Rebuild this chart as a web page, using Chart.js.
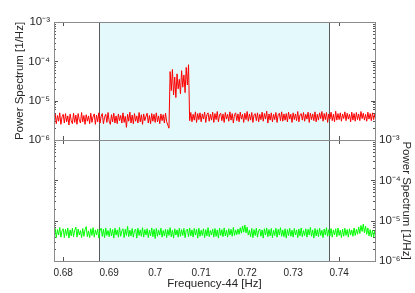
<!DOCTYPE html>
<html>
<head>
<meta charset="utf-8">
<script src="https://cdn.jsdelivr.net/npm/chart.js@4/dist/chart.umd.min.js"></script>
<style>
html, body { margin: 0; padding: 0; background: #fff; }
#wrap { position: relative; width: 415px; height: 293px; }
#wrap canvas { position: absolute; left: 0; top: 0; width: 415px; height: 293px; }
</style>
</head>
<body>
<div id="wrap">
  <canvas id="topChart" width="415" height="293"></canvas>
  <canvas id="bottomChart" width="415" height="293"></canvas>
</div>
<script>
// frequency grid (Frequency-44, Hz)
var freqStart = 0.678, freqStep = 0.00025;

// power spectra, in units of 1e-6 /Hz
var redPower = [
  2.8,4.6,2.6,4.2,3.0,4.9,2.5,3.9,4.5,2.7,
  4.7,2.9,4.1,2.4,4.6,3.1,2.6,4.8,2.8,4.3,
  2.5,4.7,3.2,2.7,5.0,2.9,4.2,2.5,4.4,3.0,
  4.1,2.6,4.8,2.8,3.9,4.6,2.5,4.3,2.9,4.9,
  2.7,4.0,4.7,2.6,3.8,4.5,2.8,5.0,3.0,2.5,
  4.4,2.9,4.8,2.7,4.1,2.6,4.6,3.1,4.2,2.7,
  4.9,2.8,4.0,2.1,4.5,3.0,5.1,2.7,4.3,2.6,
  4.7,3.0,4.1,2.7,5.0,2.9,4.4,2.5,4.6,3.1,
  4.0,4.8,2.7,4.2,2.6,4.7,3.0,4.5,2.8,4.9,
  2.9,4.1,2.6,4.6,3.1,4.4,2.7,4.8,2.9,2.4,
  2.0,
  55,18,62,14,40,12,48,20,35,15,58,22,45,16,70,25,82,
  3.1,5.0,2.9,4.5,3.2,5.2,2.8,4.7,3.3,4.9,
  2.9,4.6,3.4,5.1,2.8,4.4,4.9,3.0,4.5,3.2,
  5.1,2.8,4.7,3.3,5.3,2.9,4.4,4.8,3.1,4.6,
  2.8,5.0,3.4,4.5,3.0,5.2,3.2,4.7,2.7,4.4,
  4.9,3.1,4.6,2.9,5.1,3.4,4.5,2.8,4.8,3.3,
  5.3,3.0,4.6,3.2,5.0,2.8,4.4,4.7,3.1,4.9,
  2.9,4.5,3.3,5.1,3.0,4.7,3.4,5.4,2.7,4.6,
  3.2,4.9,2.9,4.5,3.3,5.0,2.8,4.4,4.8,3.1,
  5.2,3.0,4.6,3.2,4.7,2.9,5.1,3.4,4.5,2.8,
  4.9,3.3,4.6,3.1,5.3,2.9,4.4,4.7,3.2,5.0,
  3.0,4.5,3.4,5.1,2.8,4.8,3.3,4.6,3.1,5.2,
  2.9,4.5,3.2,4.9,3.5,5.3,3.0,4.7,3.3,5.0,
  2.8,4.6,3.4,5.1,3.1,4.5,2.9,5.4,3.2,4.7,
  3.3,4.9,3.0,4.6,3.5,5.2,3.1,4.8,3.4,4.5,
  2.9,5.1,3.2,4.7,3.0,5.0,3.3,4.6,3.1,5.3,
  3.5,4.8,3.2,4.5,3.0,5.1,3.4,4.7,3.1,4.9,
  3.3,4.6
];

var greenPower = [
  4.1,6.4,3.8,6.0,4.4,6.8,3.9,5.6,6.3,3.8,
  6.1,4.3,6.6,3.7,5.9,4.2,6.5,4.0,5.8,6.9,
  3.9,6.2,4.4,5.7,3.8,6.4,4.1,6.0,7.1,4.0,
  5.6,3.8,6.3,4.3,6.7,3.9,5.9,4.4,6.2,3.7,
  5.8,6.5,4.1,6.1,3.8,6.6,4.3,5.7,4.0,6.4,
  4.2,6.0,3.7,6.5,4.4,5.9,3.9,6.8,4.1,5.6,
  6.3,3.8,6.1,4.3,7.2,4.0,5.8,4.2,6.4,3.9,
  5.7,6.2,3.7,6.5,4.3,5.9,4.1,6.7,3.9,6.0,
  4.4,6.3,3.8,5.8,4.2,6.6,4.0,6.1,3.6,6.4,
  4.1,5.9,4.4,6.5,3.9,5.7,4.2,6.2,3.8,6.0,
  4.3,6.7,4.0,5.8,3.7,6.3,4.4,5.9,3.9,6.5,
  4.1,6.0,4.3,6.4,3.8,5.7,6.2,4.0,6.6,4.2,
  5.9,3.9,6.4,4.4,6.1,3.7,6.5,4.1,5.8,4.3,
  6.3,3.8,6.0,4.2,6.7,4.0,5.7,4.4,6.2,3.9,
  6.4,4.1,5.9,3.7,6.5,4.3,6.0,4.0,6.6,4.2,
  5.8,3.9,6.3,4.4,6.1,4.1,6.8,4.3,5.9,4.5,
  6.2,4.6,6.7,4.9,7.4,5.2,7.8,5.0,6.9,4.4,
  5.8,4.0,6.4,3.8,6.0,4.3,6.5,3.9,5.7,6.2,
  4.1,5.9,3.7,6.3,4.4,6.6,4.0,6.0,4.2,6.4,
  3.8,5.8,4.3,6.5,3.9,6.1,4.4,6.7,4.1,5.9,
  4.0,6.3,3.7,6.0,4.3,6.5,4.1,5.8,3.9,6.4,
  4.4,5.9,3.8,6.2,4.2,6.6,4.0,5.7,4.3,6.3,
  3.9,6.1,4.4,6.8,4.1,5.9,3.7,6.4,4.2,6.0,
  4.0,6.5,4.3,5.8,3.8,6.2,4.4,6.7,4.1,6.0,
  4.2,6.4,3.9,5.9,4.4,6.3,4.0,6.6,4.3,5.8,
  3.8,6.2,4.1,6.5,4.3,6.0,3.9,6.3,4.4,5.9,
  4.1,6.6,4.3,6.1,4.6,7.0,4.8,7.6,5.4,8.2,
  5.0,7.3,4.6,6.6,4.2,6.0,4.0,5.8,3.9,5.6
];

var xTickValues = [0.68, 0.69, 0.70, 0.71, 0.72, 0.73, 0.74];
var xTickLabels = ['0.68', '0.69', '0.7', '0.71', '0.72', '0.73', '0.74'];
var yTickValues = [1e-6, 1e-5, 1e-4, 1e-3];
var yTickLabels = ['10⁻⁶', '10⁻⁵', '10⁻⁴', '10⁻³'];

var xMin = 0.678, xMax = 0.7478;
var shadeStart = 0.6878, shadeEnd = 0.7378;
var shadeColor = '#e3f9fb';
var textColor = '#262626';
var fontFamily = "'Liberation Sans', Arial, sans-serif";

function toPoints(values) {
  return values.map(function (v, i) {
    return { x: freqStart + i * freqStep, y: v * 1e-6 };
  });
}

function px(v) { return Math.round(v) + 0.5; }

// inner ticks, shaded band and box, MATLAB style
var panelDecor = {
  id: 'panelDecor',
  beforeDatasetsDraw: function (chart) {
    var ctx = chart.ctx, a = chart.chartArea;
    var xs = chart.scales.x, ys = chart.scales.y;
    ctx.save();
    ctx.strokeStyle = '#555';
    ctx.lineWidth = 1;
    ctx.beginPath();
    xTickValues.forEach(function (v) {
      var x = px(xs.getPixelForValue(v));
      ctx.moveTo(x, a.top); ctx.lineTo(x, a.top + 4);
      ctx.moveTo(x, a.bottom); ctx.lineTo(x, a.bottom - 4);
    });
    yTickValues.forEach(function (d) {
      for (var m = 1; m < 10; m++) {
        var v = d * m;
        if (v > 1.0001e-3) break;
        var y = px(ys.getPixelForValue(v));
        var len = m === 1 ? 4 : 2;
        ctx.moveTo(a.left, y); ctx.lineTo(a.left + len, y);
        ctx.moveTo(a.right, y); ctx.lineTo(a.right - len, y);
      }
    });
    ctx.stroke();

    var x0 = xs.getPixelForValue(shadeStart), x1 = xs.getPixelForValue(shadeEnd);
    ctx.fillStyle = shadeColor;
    ctx.fillRect(x0, a.top, x1 - x0, a.bottom - a.top);
    ctx.strokeStyle = '#5a5a5a';
    ctx.beginPath();
    ctx.moveTo(px(x0), a.top); ctx.lineTo(px(x0), a.bottom);
    ctx.moveTo(px(x1), a.top); ctx.lineTo(px(x1), a.bottom);
    ctx.stroke();
    ctx.restore();
  },
  afterDraw: function (chart) {
    var ctx = chart.ctx, a = chart.chartArea;
    ctx.save();
    ctx.strokeStyle = '#8a8a8a';
    ctx.lineWidth = 1;
    ctx.strokeRect(px(a.left), px(a.top), px(a.right) - px(a.left), px(a.bottom) - px(a.top));
    ctx.restore();
  }
};

function yAxis(position, width, titlePad) {
  return {
    type: 'logarithmic',
    position: position,
    min: 1e-6,
    max: 1e-3,
    afterBuildTicks: function (s) { s.ticks = yTickValues.map(function (v) { return { value: v }; }); },
    afterFit: function (s) { s.width = width; },
    grid: { display: false, drawTicks: false },
    border: { display: false },
    ticks: {
      autoSkip: false,
      padding: 4,
      color: textColor,
      font: { family: fontFamily, size: 11.5 },
      callback: function (v, i) { return yTickLabels[i]; }
    },
    title: {
      display: true,
      text: 'Power Spectrum [1/Hz]',
      color: textColor,
      font: { family: fontFamily, size: 11.5 },
      padding: { top: titlePad, bottom: 0 }
    }
  };
}

new Chart(document.getElementById('topChart'), {
  type: 'line',
  data: {
    datasets: [{
      data: toPoints(redPower),
      borderColor: '#ff0000',
      borderWidth: 1,
      pointRadius: 0,
      tension: 0
    }]
  },
  options: {
    responsive: false,
    animation: false,
    layout: { padding: { left: 0, right: 40, top: 22, bottom: 153 } },
    plugins: { legend: { display: false }, tooltip: { enabled: false } },
    scales: {
      x: { type: 'linear', min: xMin, max: xMax, display: false },
      y: yAxis('left', 54, 13)
    }
  },
  plugins: [panelDecor]
});

new Chart(document.getElementById('bottomChart'), {
  type: 'line',
  data: {
    datasets: [{
      data: toPoints(greenPower),
      borderColor: '#00ff00',
      borderWidth: 1,
      pointRadius: 0,
      tension: 0
    }]
  },
  options: {
    responsive: false,
    animation: false,
    layout: { padding: { left: 54, right: 0, top: 140, bottom: 0 } },
    plugins: { legend: { display: false }, tooltip: { enabled: false } },
    scales: {
      x: {
        type: 'linear',
        position: 'bottom',
        min: xMin,
        max: xMax,
        afterBuildTicks: function (s) { s.ticks = xTickValues.map(function (v) { return { value: v }; }); },
        afterFit: function (s) { s.height = 32; },
        grid: { display: false, drawTicks: false },
        border: { display: false },
        ticks: {
          autoSkip: false,
          maxRotation: 0,
          padding: 6,
          color: textColor,
          font: { family: fontFamily, size: 10 },
          callback: function (v, i) { return xTickLabels[i]; }
        },
        title: {
          display: true,
          text: 'Frequency-44 [Hz]',
          color: textColor,
          font: { family: fontFamily, size: 11.5 },
          padding: { top: 0, bottom: 2 }
        }
      },
      y: yAxis('right', 40, 2)
    }
  },
  plugins: [panelDecor]
});
</script>
</body>
</html>
